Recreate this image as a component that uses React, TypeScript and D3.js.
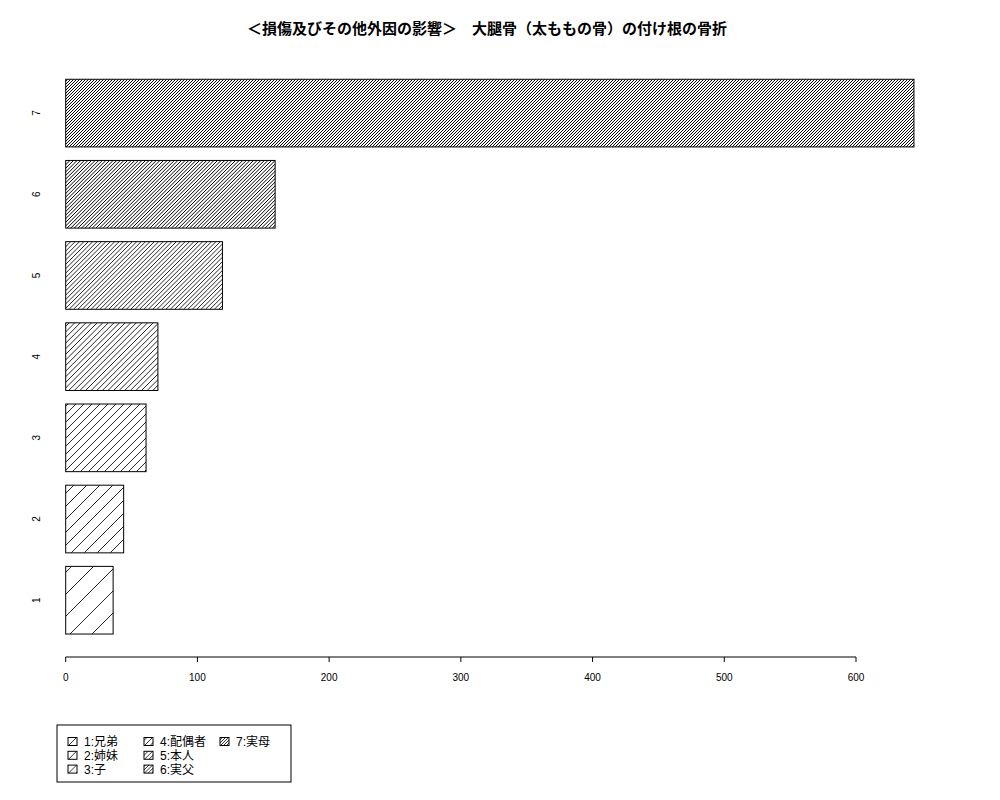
import React from 'react';
import * as d3 from 'd3';

// chart data
const categories = ['1', '2', '3', '4', '5', '6', '7'];
const values = [36, 44, 61, 70, 119, 159, 644];
const legendNames = ['1:兄弟', '2:姉妹', '3:子', '4:配偶者', '5:本人', '6:実父', '7:実母'];
const xTicks = [0, 100, 200, 300, 400, 500, 600];
const title = '＜損傷及びその他外因の影響＞　大腿骨（太ももの骨）の付け根の骨折';

// horizontal hatch spacing per category (denser for higher categories)
const hatchSpacing = [22, 13, 8, 5.6, 4.4, 3.6, 3];

const W = 1000;
const H = 800;
const axisY = 657;
const font = '"Liberation Sans", "Noto Sans CJK JP", sans-serif';

// "/" hatch lines (x + y = const) covering a rectangle, clipped later
const hatchLines = (x0: number, y0: number, w: number, h: number, s: number, start: number) => {
  const first = Math.ceil((x0 + y0 - start) / s) * s + start;
  return d3.range(first, x0 + w + y0 + h, s).map((c) => ({
    x1: c - (y0 + h),
    y1: y0 + h,
    x2: c - y0,
    y2: y0,
  }));
};

const Hatched: React.FC<{
  id: string;
  x: number;
  y: number;
  w: number;
  h: number;
  s: number;
  start?: number;
  sw?: number;
}> = ({ id, x, y, w, h, s, start = 0, sw = 0.8 }) => (
  <g>
    <clipPath id={id}>
      <rect x={x} y={y} width={w} height={h} />
    </clipPath>
    <rect x={x} y={y} width={w} height={h} fill="#fff" />
    <g clipPath={`url(#${id})`} stroke="#000" strokeWidth={sw}>
      {hatchLines(x, y, w, h, s, start).map((l, k) => (
        <line key={k} {...l} />
      ))}
    </g>
    <rect x={x} y={y} width={w} height={h} fill="none" stroke="#000" strokeWidth={1} />
  </g>
);

const App: React.FC = () => {
  const x = d3.scaleLinear().domain([0, 600]).range([65.7, 856]);
  const y = d3
    .scaleBand<string>()
    .domain(categories)
    .range([640.8, 72.5])
    .paddingInner(1 / 6)
    .paddingOuter(1 / 12);

  return (
    <svg
      width={W}
      height={H}
      style={{ position: 'absolute', left: 0, top: 0, background: '#fff' }}
    >
      <text
        x={487}
        y={34}
        textAnchor="middle"
        fontFamily={font}
        fontWeight="bold"
        fontSize={15}
      >
        {title}
      </text>

      {/* bars */}
      {categories.map((c, i) => (
        <g key={c}>
          <Hatched
            id={`bar-clip-${i}`}
            x={x(0)}
            y={y(c) ?? 0}
            w={x(values[i]) - x(0)}
            h={y.bandwidth()}
            s={hatchSpacing[i]}
            sw={i >= 5 ? 1 : 0.85}
          />
          <text
            transform={`translate(40,${(y(c) ?? 0) + y.bandwidth() / 2}) rotate(-90)`}
            textAnchor="middle"
            fontFamily={font}
            fontSize={10}
          >
            {c}
          </text>
        </g>
      ))}

      {/* x axis */}
      <g fontFamily={font} fontSize={10}>
        <line x1={x(0)} x2={x(600)} y1={axisY} y2={axisY} stroke="#000" />
        {xTicks.map((t) => (
          <g key={t}>
            <line x1={x(t)} x2={x(t)} y1={axisY} y2={axisY + 5} stroke="#000" />
            <text x={x(t)} y={axisY + 24} textAnchor="middle">
              {t}
            </text>
          </g>
        ))}
      </g>

      {/* legend */}
      <g fontFamily={font} fontSize={12}>
        <rect x={57} y={725} width={234} height={57} fill="#fff" stroke="#000" />
        {legendNames.map((name, i) => {
          const lx = 68 + Math.floor(i / 3) * 76;
          const ly = 741.5 + (i % 3) * 13.8;
          return (
            <g key={name}>
              <Hatched
                id={`leg-clip-${i}`}
                x={lx}
                y={ly - 4}
                w={9}
                h={8}
                s={hatchSpacing[i]}
                start={lx + 4.5 + ly}
                sw={0.8}
              />
              <text x={lx + 16} y={ly + 4.5}>
                {name}
              </text>
            </g>
          );
        })}
      </g>
    </svg>
  );
};

export default App;
